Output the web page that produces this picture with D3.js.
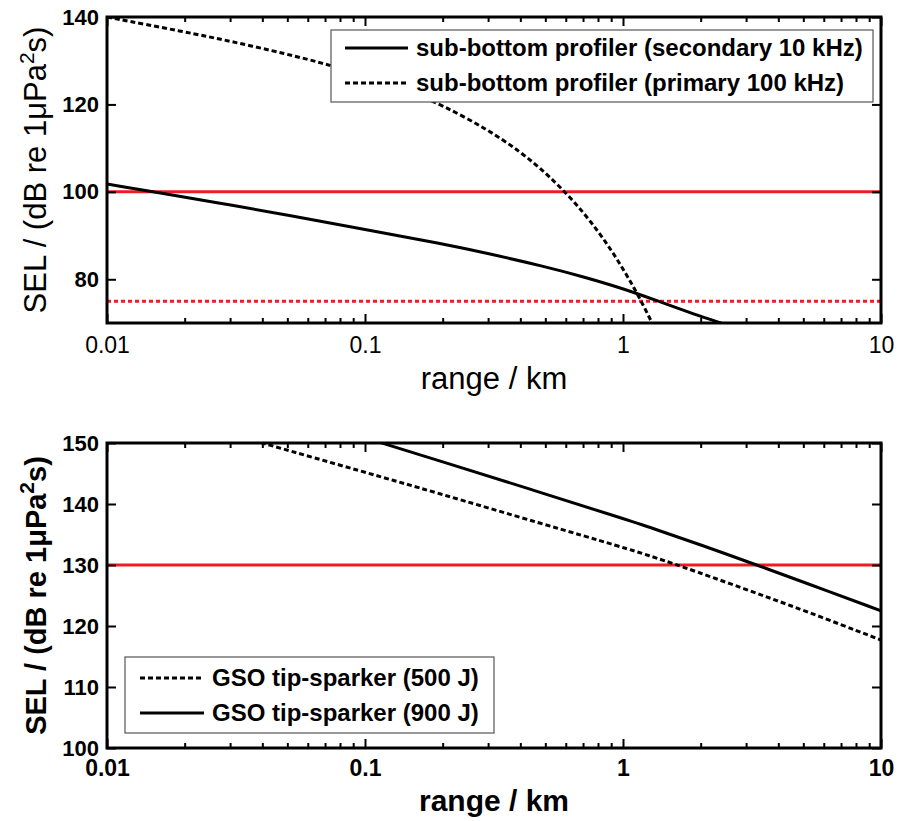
<!DOCTYPE html>
<html>
<head>
<meta charset="utf-8">
<script src="https://cdn.jsdelivr.net/npm/d3@7"></script>
<style>
  body { margin: 0; background: #fff; }
  svg { display: block; font-family: "Liberation Sans", Arial, sans-serif; }
</style>
</head>
<body>
<div id="chart"></div>
<script>
// values: range in km, SEL in dB re 1 uPa^2 s
var xTicks = [0.01, 0.1, 1, 10];
var xTickLabels = ["0.01", "0.1", "1", "10"];

var secondaryRange = [0.01, 0.02, 0.03, 0.05, 0.1, 0.2, 0.3, 0.5, 0.7, 1, 1.34, 1.7, 2, 2.4, 2.6];
var secondarySEL   = [101.8, 98.8, 97.0, 94.7, 91.4, 88.1, 85.9, 82.9, 80.6, 77.9, 75.2, 73.0, 71.5, 70.0, 69.3];

var primaryRange = [0.01, 0.02, 0.03, 0.05, 0.07, 0.1, 0.15, 0.2, 0.3, 0.4, 0.5, 0.6, 0.7, 0.8, 0.9, 1.0, 1.1, 1.2, 1.3, 1.4];
var primarySEL   = [140, 136.6, 134.5, 131.5, 129.3, 126.6, 122.9, 119.8, 114.2, 109.2, 104.4, 99.8, 95.4, 91.0, 86.7, 82.4, 78.2, 74.0, 69.9, 65.7];

var spark500Range = [0.03, 0.04, 0.1, 0.184, 0.5, 1, 1.27, 1.63, 3, 5, 10];
var spark500SEL   = [151.5, 150, 145.2, 142, 136.6, 132.9, 131.5, 130, 126, 122.6, 117.7];

var spark900Range = [0.09, 0.116, 0.2, 0.448, 1, 1.27, 2, 3.3, 5, 10];
var spark900SEL   = [151.5, 150, 146.9, 142.3, 137.6, 136.2, 133.3, 130, 127.2, 122.5];

var topYTicks = [80, 100, 120, 140];
var bottomYTicks = [100, 110, 120, 130, 140, 150];

var topThresholds = [100, 75];
var topThresholdDash = [null, "4,3"];
var bottomThresholds = [130];

var topLegend = ["sub-bottom profiler (secondary 10 kHz)", "sub-bottom profiler (primary 100 kHz)"];
var bottomLegend = ["GSO tip-sparker (500 J)", "GSO tip-sparker (900 J)"];

var W = 907, H = 821;
var svg = d3.select('#chart').append('svg')
  .attr('width', W)
  .attr('height', H);

var RED = '#ee1c22';
var DASH = '5,3';

// log minor ticks 2..9 of each decade
var minorTicks = [];
[0.01, 0.1, 1].forEach(function(dec) {
  for (var k = 2; k <= 9; k++) minorTicks.push(dec * k);
});

function toPoints(xs, ys) {
  return xs.map(function(d, i) { return [d, ys[i]]; });
}

function drawPanel(cfg) {
  var w = 774, h = cfg.h;
  var g = svg.append('g').attr('transform', 'translate(107,' + cfg.top + ')');

  var x = d3.scaleLog().domain([0.01, 10]).range([0, w]);
  var y = d3.scaleLinear().domain(cfg.yDomain).range([h, 0]);

  g.append('clipPath').attr('id', cfg.id + '-clip')
    .append('rect').attr('width', w).attr('height', h);

  var plot = g.append('g').attr('clip-path', 'url(#' + cfg.id + '-clip)');

  // threshold lines
  cfg.thresholds.forEach(function(t, i) {
    plot.append('line')
      .attr('x1', x(0.01)).attr('x2', x(10))
      .attr('y1', y(t)).attr('y2', y(t))
      .attr('stroke', RED)
      .attr('stroke-width', 3)
      .attr('stroke-dasharray', cfg.thresholdDash ? cfg.thresholdDash[i] : null);
  });

  var line = d3.line()
    .curve(d3.curveBasis)
    .x(function(d) { return x(d[0]); })
    .y(function(d) { return y(d[1]); });

  cfg.series.forEach(function(s) {
    plot.append('path')
      .datum(s.data)
      .attr('fill', 'none')
      .attr('stroke', '#000')
      .attr('stroke-width', 3)
      .attr('stroke-dasharray', s.dash)
      .attr('d', line);
  });

  // axes, ticks pointing inwards like matlab
  function style(sel) {
    sel.select('.domain').remove();
    sel.selectAll('line').attr('stroke', '#000').attr('stroke-width', 2);
  }
  var tickFont = cfg.bold ? 'bold' : 'normal';

  var xb = g.append('g').attr('transform', 'translate(0,' + h + ')')
    .call(d3.axisBottom(x).tickValues(xTicks).tickSize(-9).tickPadding(cfg.xPad)
      .tickFormat(function(d, i) { return xTickLabels[i]; }));
  xb.call(style);
  xb.selectAll('text').attr('font-size', 23).attr('font-weight', tickFont)
    .attr('font-family', cfg.bold ? null : '"Liberation Sans Narrow", "Liberation Sans", Arial, sans-serif')
    .attr('fill', '#000');
  g.append('g').attr('transform', 'translate(0,' + h + ')')
    .call(d3.axisBottom(x).tickValues(minorTicks).tickSize(-5).tickFormat(''))
    .call(style);
  g.append('g')
    .call(d3.axisTop(x).tickValues(xTicks).tickSize(-9).tickFormat(''))
    .call(style);
  g.append('g')
    .call(d3.axisTop(x).tickValues(minorTicks).tickSize(-5).tickFormat(''))
    .call(style);

  var yl = g.append('g')
    .call(d3.axisLeft(y).tickValues(cfg.yTicks).tickSize(-9).tickPadding(8));
  yl.call(style);
  yl.selectAll('text').attr('font-size', 22).attr('font-weight', 'bold').attr('fill', '#000');
  g.append('g').attr('transform', 'translate(' + w + ',0)')
    .call(d3.axisRight(y).tickValues(cfg.yTicks).tickSize(-9).tickFormat(''))
    .call(style);

  // frame
  g.append('rect')
    .attr('width', w).attr('height', h)
    .attr('fill', 'none').attr('stroke', '#000').attr('stroke-width', 3);

  // axis titles
  var weight = cfg.bold ? 'bold' : 'normal';
  g.append('text')
    .attr('x', w / 2).attr('y', h + cfg.xLabelOffset)
    .attr('text-anchor', 'middle')
    .attr('font-size', cfg.titleSize).attr('font-weight', weight)
    .text('range / km');

  var yt = g.append('text')
    .attr('transform', 'translate(' + (-61) + ',' + (h / 2) + ') rotate(-90)')
    .attr('text-anchor', 'middle')
    .attr('font-size', cfg.yTitleSize).attr('font-weight', weight);
  yt.append('tspan').text('SEL / (dB re 1\u03bcPa');
  yt.append('tspan').attr('font-size', 21).attr('dy', -12).text('2');
  yt.append('tspan').attr('dy', 12).text('s)');

  // legend
  var lg = g.append('g').attr('transform', 'translate(' + cfg.legend.x + ',' + cfg.legend.y + ')');
  lg.append('rect')
    .attr('width', cfg.legend.w).attr('height', cfg.legend.h)
    .attr('fill', '#fff').attr('stroke', '#555').attr('stroke-width', 1.2);
  cfg.legend.items.forEach(function(it, i) {
    var ry = cfg.legend.rowY[i];
    lg.append('line')
      .attr('x1', cfg.legend.lineX[0]).attr('x2', cfg.legend.lineX[1])
      .attr('y1', ry).attr('y2', ry)
      .attr('stroke', '#000').attr('stroke-width', 3)
      .attr('stroke-dasharray', it.dash);
    lg.append('text')
      .attr('x', cfg.legend.textX).attr('y', ry)
      .attr('dy', '0.35em')
      .attr('font-size', cfg.legend.fontSize).attr('font-weight', 'bold')
      .text(it.label);
  });
}

drawPanel({
  id: 'top', top: 17, h: 306,
  yDomain: [70, 140], yTicks: topYTicks,
  thresholds: topThresholds, thresholdDash: topThresholdDash,
  series: [
    { data: toPoints(secondaryRange, secondarySEL), dash: null },
    { data: toPoints(primaryRange, primarySEL), dash: DASH }
  ],
  bold: false, xPad: 14, xLabelOffset: 66, titleSize: 31, yTitleSize: 31,
  legend: {
    x: 224, y: 13, w: 542, h: 72,
    rowY: [18, 53], lineX: [14, 77], textX: 85, fontSize: 24,
    items: [
      { label: topLegend[0], dash: null },
      { label: topLegend[1], dash: DASH }
    ]
  }
});

drawPanel({
  id: 'bottom', top: 443, h: 305,
  yDomain: [100, 150], yTicks: bottomYTicks,
  thresholds: bottomThresholds, thresholdDash: null,
  series: [
    { data: toPoints(spark500Range, spark500SEL), dash: DASH },
    { data: toPoints(spark900Range, spark900SEL), dash: null }
  ],
  bold: true, xPad: 12, xLabelOffset: 63, titleSize: 30, yTitleSize: 29,
  legend: {
    x: 18, y: 214, w: 369, h: 76,
    rowY: [21, 56], lineX: [15, 79], textX: 87, fontSize: 24,
    items: [
      { label: bottomLegend[0], dash: DASH },
      { label: bottomLegend[1], dash: null }
    ]
  }
});
</script>
</body>
</html>
